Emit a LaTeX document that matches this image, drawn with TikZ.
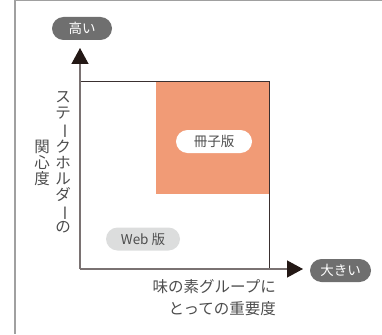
\documentclass[tikz,border=0pt]{standalone}
\usepackage{fontspec}
\usepackage{graphicx}
\setmainfont{Noto Sans CJK JP}
\usetikzlibrary{arrows.meta}
\definecolor{pilldark}{HTML}{6F6F6F}
\definecolor{orangebox}{HTML}{F19B76}
\definecolor{pilllight}{HTML}{DCDDDD}
\definecolor{txtgray}{HTML}{4D4D4D}
\definecolor{framegray}{HTML}{A0A0A0}
\definecolor{axisgray}{HTML}{7A7272}
\definecolor{boxline}{HTML}{3A3030}
\definecolor{tipdark}{HTML}{231815}
\newcommand{\vbar}{\rotatebox[origin=c]{-90}{ー}}
\tikzset{
  pill/.style={rectangle, rounded corners=11.5pt, minimum height=23pt, inner sep=0pt, font=\fontsize{13.5}{14}\selectfont},
  darkpill/.style={pill, fill=pilldark, text=white},
  axislabel/.style={text=txtgray, inner sep=0pt, font=\fontsize{15.5}{16}\selectfont, align=center},
  axisline/.style={draw=axisgray, line width=1.3pt, -{Triangle[width=17pt,length=16pt,color=tipdark]}},
}
\begin{document}
\begin{tikzpicture}[x=1pt,y=-1pt]
\useasboundingbox (0,0) rectangle (382,334);
% outer frame (top and left edges)
\draw[framegray, line width=1.5pt] (15,334) -- (15,0.75) -- (382,0.75);
% orange quadrant
\fill[orangebox] (156,81) rectangle (269,194);
% box edges
\draw[boxline, line width=0.9pt] (80,81) -- (269,81) -- (269,269);
% axes
\coordinate (o) at (80,269);
\coordinate (ytip) at (80,48);
\coordinate (xtip) at (303,269);
\draw[axisline] (o) -- (ytip);
\draw[axisline] (o) -- (xtip);
% pills
\node[darkpill, minimum width=60pt] (high) at (82,28.5) {高い};
\node[darkpill, minimum width=61pt] (large) at (340.5,270.5) {大きい};
\node[pill, fill=white, text=txtgray, minimum width=76pt] (booklet) at (214,141.5) {冊子版};
\node[pill, fill=pilllight, text=txtgray, minimum width=74pt] (web) at (143,239) {Web 版};
% y-axis label (vertical writing)
\node[axislabel] (ylabA) at (63,162) {ス\\テ\\\vbar\\ク\\ホ\\ル\\ダ\\\vbar\\の};
\node[axislabel] (ylabB) at (42,163) {関\\心\\度};
% x-axis label
\node[text=txtgray, inner sep=0pt, font=\fontsize{15.5}{22}\selectfont, align=right, anchor=east] (xlab) at (276,298) {味の素グループに\\とっての重要度};
\end{tikzpicture}
\end{document}
